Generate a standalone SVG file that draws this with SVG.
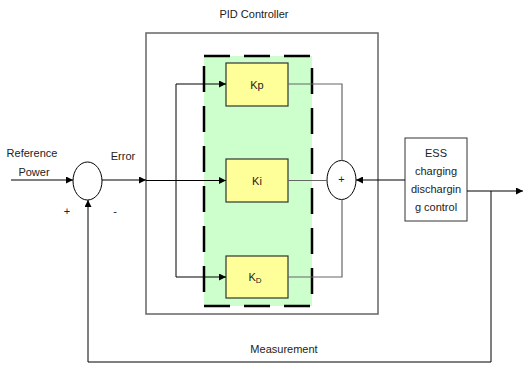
<svg xmlns="http://www.w3.org/2000/svg" width="524" height="366" viewBox="0 0 524 366">
<defs>
<style>
text{font-family:"Liberation Sans",Arial,sans-serif;fill:#222;font-size:11px}
.c{text-anchor:middle}
.ln{fill:none;stroke:#000;stroke-width:1}
.gl{fill:none;stroke:#666;stroke-width:1.2}
.blk{fill:#ffff99;stroke:#333;stroke-width:1.2}
</style>
<marker id="ah" viewBox="0 0 10 10" refX="10" refY="5" markerWidth="7" markerHeight="7" orient="auto" markerUnits="userSpaceOnUse">
<path d="M0,0L10,5L0,10z" fill="#000"/>
</marker>
</defs>
<rect width="524" height="366" fill="#fff"/>
<g id="pid-controller">
<rect x="146" y="33" width="232" height="281" fill="none" stroke="#666" stroke-width="1.5"/>
<text class="c" x="254" y="18">PID Controller</text>
</g>
<g id="gain-group">
<rect x="204" y="56" width="108" height="250" fill="#ccffcc"/>
<path d="M204,56H312V306H204Z" fill="none" stroke="#000" stroke-width="2.5" stroke-dasharray="26,14"/>
</g>
<g id="kp"><rect class="blk" x="226" y="63" width="62" height="43"/><text class="c" x="257" y="89">Kp</text></g>
<g id="ki"><rect class="blk" x="226" y="159" width="62" height="43"/><text class="c" x="257" y="185">Ki</text></g>
<g id="kd"><rect class="blk" x="226" y="256" width="62" height="42"/><text class="c" x="255" y="281">K<tspan font-size="8" dy="2">D</tspan></text></g>
<g id="sum1"><ellipse cx="87.5" cy="181" rx="14.5" ry="19" fill="#fff" stroke="#000"/></g>
<g id="sum2"><ellipse cx="341.5" cy="180" rx="14.5" ry="19.5" fill="#fff" stroke="#000"/><text class="c" x="341.5" y="183" font-size="6">+</text></g>
<g id="ess">
<rect x="405" y="138" width="62" height="83" fill="#fff" stroke="#333" stroke-width="1"/>
<text class="c" x="436" y="157">ESS</text>
<text class="c" x="436" y="175">charging</text>
<text class="c" x="436" y="193">dischargin</text>
<text class="c" x="436" y="211">g control</text>
</g>
<g id="connectors">
<path class="ln" d="M11,180H73" marker-end="url(#ah)"/>
<path class="ln" d="M102,180H146" marker-end="url(#ah)"/>
<path class="ln" d="M146,180.5H226" marker-end="url(#ah)"/>
<path class="ln" d="M176,180.5V84H226" marker-end="url(#ah)"/>
<path class="ln" d="M176,180.5V277H226" marker-end="url(#ah)"/>
<path class="gl" d="M288,84H342V160.5"/>
<path class="gl" d="M288,180.5H327"/>
<path class="gl" d="M288,277H342V199.5"/>
<path class="ln" d="M405,180H356" marker-end="url(#ah)"/>
<path class="ln" d="M467,191H523" marker-end="url(#ah)"/>
<path class="ln" d="M491,191V362H88V200" marker-end="url(#ah)"/>
</g>
<g id="labels">
<text class="c" x="32" y="157">Reference</text>
<text class="c" x="34" y="176">Power</text>
<text class="c" x="123" y="160">Error</text>
<text class="c" x="67" y="215">+</text>
<text class="c" x="115" y="215">-</text>
<text class="c" x="284" y="353">Measurement</text>
</g>
</svg>
